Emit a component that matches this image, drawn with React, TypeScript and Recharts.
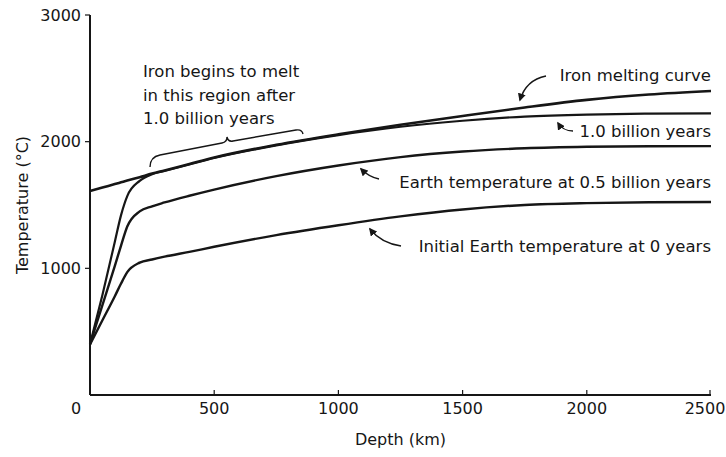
import React from "react";
import { LineChart, Line, XAxis, YAxis, Label } from "recharts";

// depth (km) sample points shared by every curve
const depths = [0, 50, 100, 125, 150, 200, 250, 300, 400, 500, 750, 1000, 1250, 1500, 1750, 2000, 2250, 2500];

// temperatures (°C)
const ironMelting = [1610, 1638, 1665, 1679, 1693, 1720, 1748, 1773, 1824, 1875, 1975, 2058, 2133, 2203, 2270, 2330, 2372, 2400];
const oneBillion = [400, 790, 1210, 1420, 1570, 1690, 1743, 1768, 1820, 1871, 1971, 2052, 2118, 2165, 2198, 2214, 2221, 2224];
const halfBillion = [400, 710, 1020, 1180, 1330, 1450, 1490, 1520, 1573, 1622, 1728, 1812, 1878, 1922, 1948, 1960, 1964, 1965];
const initial = [400, 590, 780, 880, 970, 1045, 1070, 1092, 1130, 1170, 1262, 1340, 1410, 1465, 1500, 1515, 1522, 1524];

const xTicks = [0, 500, 1000, 1500, 2000, 2500];
const yTicks = [1000, 2000, 3000];

const data = depths.map((d, i) => ({
    depth: d,
    melt: ironMelting[i],
    b10: oneBillion[i],
    b05: halfBillion[i],
    b00: initial[i]
}));

const FONT = "'DejaVu Sans', sans-serif";
const INK = "#161616";
const X_GAP = 7;

const XTick = (props: any) => {
    const { x, y, payload } = props;
    const axisY = y - X_GAP;
    let shift = 0;
    if (payload.value === 0) shift = -14;
    if (payload.value === 2500) shift = -5;
    return (
        <g>
            {payload.value !== 0 && <line x1={x} x2={x} y1={axisY} y2={axisY - 5} stroke={INK} strokeWidth={1.2} />}
            <text x={x + shift} y={y} dy="0.75em" textAnchor="middle" fontSize={16} fontFamily={FONT} fill={INK}>
                {payload.value}
            </text>
        </g>
    );
};

const Annotations = () => (
    <svg width={726} height={457} style={{ position: "absolute", left: 0, top: 0, pointerEvents: "none" }}>
        <defs>
            <marker id="ah" viewBox="0 0 10 10" refX="8" refY="5" markerWidth="8" markerHeight="8" markerUnits="userSpaceOnUse" orient="auto">
                <path d="M0,0 L10,5 L0,10 z" fill={INK} />
            </marker>
        </defs>
        <g fontFamily={FONT} fontSize={16.5} fill={INK}>
            <text x={143} y={77}>Iron begins to melt</text>
            <text x={143} y={101}>in this region after</text>
            <text x={143} y={124}>1.0 billion years</text>
            <text x={711} y={81} textAnchor="end">Iron melting curve</text>
            <text x={711} y={137} textAnchor="end">1.0 billion years</text>
            <text x={711} y={188} textAnchor="end">Earth temperature at 0.5 billion years</text>
            <text x={711} y={252} textAnchor="end">Initial Earth temperature at 0 years</text>
        </g>
        <g fill="none" stroke={INK} strokeWidth={1.4}>
            <path d="M150,167 Q150,157 160,155 L222,143 Q227,142 227,137 Q228,142 233,141 L296,130 Q302,129 303,134" />
            <path d="M546,76 Q526,80 520,100" markerEnd="url(#ah)" />
            <path d="M573,131 Q563,131 558,123" markerEnd="url(#ah)" />
            <path d="M379,179 Q369,177 361,169" markerEnd="url(#ah)" />
            <path d="M401,246 Q381,243 370,229" markerEnd="url(#ah)" />
        </g>
    </svg>
);

export default function App() {
    return (
        <div style={{ position: "relative", width: 726, height: 457, background: "#fff" }}>
            <style>{"body{margin:0}"}</style>
            <LineChart width={726} height={457} data={data} margin={{ top: 15, right: 15, left: 0, bottom: 0 }}>
                <XAxis
                    dataKey="depth"
                    type="number"
                    domain={[0, 2500]}
                    ticks={xTicks}
                    height={62}
                    tickLine={false}
                    tickSize={0}
                    tickMargin={X_GAP}
                    tick={<XTick />}
                    axisLine={{ stroke: INK, strokeWidth: 2 }}>
                    <Label value="Depth (km)" position="insideBottom" offset={12} fontSize={16} fontFamily={FONT} fill={INK} />
                </XAxis>
                <YAxis
                    type="number"
                    domain={[0, 3000]}
                    ticks={yTicks}
                    width={90}
                    tickSize={5}
                    tickMargin={4}
                    tickLine={{ stroke: INK, strokeWidth: 1.2 }}
                    axisLine={{ stroke: INK, strokeWidth: 2 }}
                    tick={{ fontSize: 16, fontFamily: FONT, fill: INK }}>
                    <Label value="Temperature (°C)" position="center" angle={-90} dx={-23} fontSize={16} fontFamily={FONT} fill={INK} />
                </YAxis>
                <Line type="monotone" dataKey="melt" stroke={INK} strokeWidth={2.6} dot={false} isAnimationActive={false} />
                <Line type="monotone" dataKey="b10" stroke={INK} strokeWidth={2.2} dot={false} isAnimationActive={false} />
                <Line type="monotone" dataKey="b05" stroke={INK} strokeWidth={2.4} dot={false} isAnimationActive={false} />
                <Line type="monotone" dataKey="b00" stroke={INK} strokeWidth={2.4} dot={false} isAnimationActive={false} />
            </LineChart>
            <Annotations />
        </div>
    );
}
